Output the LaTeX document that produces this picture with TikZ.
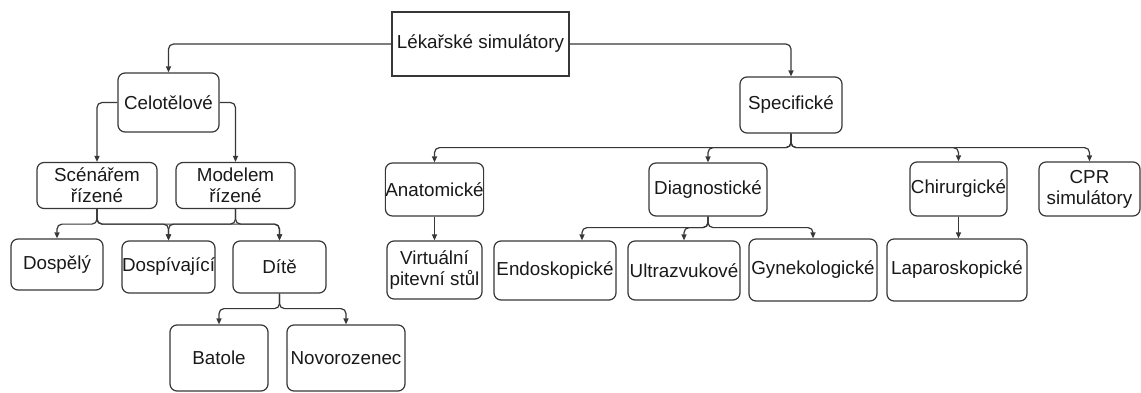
\documentclass[tikz,border=0pt]{standalone}
\usepackage{fontspec}
\setmainfont{Liberation Sans}
\usetikzlibrary{arrows.meta}
\definecolor{edge}{RGB}{55,55,55}
\definecolor{ink}{RGB}{25,25,25}
\begin{document}
\begin{tikzpicture}[x=1pt,y=-1pt,
  every node/.style={font=\fontsize{18.8}{21}\selectfont, text=ink, inner sep=0pt, align=center},
  box/.style={draw=edge, line width=1.2pt, rounded corners=7pt, minimum width=#1},
  plainbox/.style={draw=edge, line width=1.2pt, minimum width=#1},
  conn/.style={draw=edge, line width=1.2pt, rounded corners=5pt,
    -{Triangle[length=6pt,width=5pt]}}
]
\useasboundingbox (0,0) rectangle (1141,392);

% root
\node[plainbox=177, minimum height=64] (root) at (480.5,44) {Lékařské simulátory};

% left branch: whole-body simulators
\node[box=101, minimum height=59] (cel) at (168.5,102.5) {Celotělové};
\node[box=120, minimum height=46] (scen) at (97,185.5) {Scénářem\\řízené};
\node[box=119, minimum height=46] (model) at (235.5,185.5) {Modelem\\řízené};
\node[box=92, minimum height=51] (dosp) at (57,264.5) {Dospělý};
\node[box=93, minimum height=52] (dospiv) at (168.5,267) {Dospívající};
\node[box=93, minimum height=52] (dite) at (279.5,267) {Dítě};
\node[box=98, minimum height=66] (batole) at (219,358) {Batole};
\node[box=118, minimum height=66] (novo) at (346,358) {Novorozenec};

% right branch: specific simulators
\node[box=102, minimum height=56] (spec) at (791,105) {Specifické};
\node[box=95, minimum height=53] (anat) at (434.5,189.5) {Anatomické};
\node[box=118, minimum height=53] (diag) at (708,189.5) {Diagnostické};
\node[box=97, minimum height=54] (chir) at (958.5,189) {Chirurgické};
\node[box=101, minimum height=54] (cpr) at (1089.5,189) {CPR\\simulátory};
\node[box=95, minimum height=58] (virt) at (434.5,270) {Virtuální\\pitevní stůl};
\node[box=122, minimum height=59] (endo) at (555,270.5) {Endoskopické};
\node[box=112, minimum height=59] (ultra) at (684,270.5) {Ultrazvukové};
\node[box=128, minimum height=62] (gyn) at (813,270) {Gynekologické};
\node[box=140, minimum height=62] (lapa) at (957,270) {Laparoskopické};

% connectors
\draw[conn] (root.west) -| (cel.north);
\draw[conn] (root.east) -| (spec.north);

\draw[conn] (cel.west) -| (scen.north);
\draw[conn] (cel.east) -| (model.north);

\draw[conn] (scen.south) -- ++(0,15) -| (dosp.north);
\draw[conn] (scen.south) -- ++(0,15) -| (dospiv.north);
\draw[conn] (scen.south) -- ++(0,15) -| (dite.north);
\draw[conn] (model.south) -- ++(0,15) -| (dospiv.north);
\draw[conn] (model.south) -- ++(0,15) -| (dite.north);

\draw[conn] (dite.south) -- ++(0,15) -| (batole.north);
\draw[conn] (dite.south) -- ++(0,15) -| (novo.north);

\draw[conn] (spec.south) -- ++(0,14) -| (anat.north);
\draw[conn] (spec.south) -- ++(0,14) -| (diag.north);
\draw[conn] (spec.south) -- ++(0,14) -| (chir.north);
\draw[conn] (spec.south) -- ++(0,14) -| (cpr.north);

\draw[conn] (anat.south) -- (virt.north);
\draw[conn] (chir.south) -- (lapa.north -| chir.south);

\draw[conn] (diag.south) -- ++(0,11) -| ([xshift=27pt]endo.north);
\draw[conn] (diag.south) -- ++(0,11) -| (ultra.north);
\draw[conn] (diag.south) -- ++(0,11) -| (gyn.north);
\end{tikzpicture}
\end{document}
